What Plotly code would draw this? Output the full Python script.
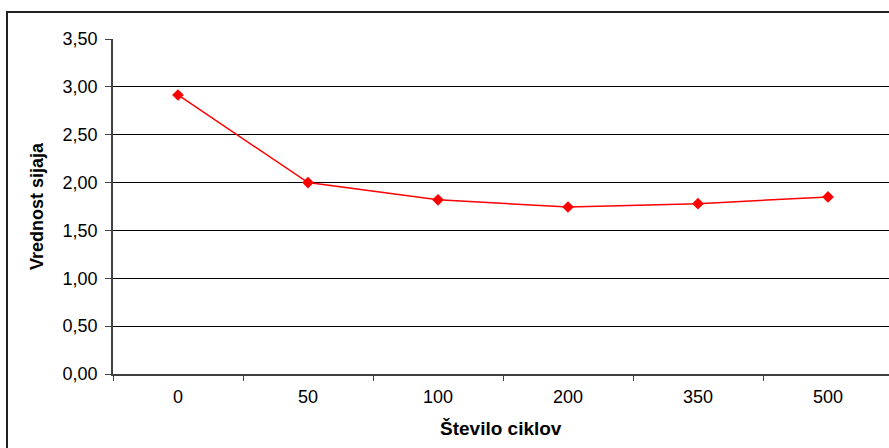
import plotly.graph_objects as go

categories = ["0", "50", "100", "200", "350", "500"]
values = [2.915, 2.00, 1.82, 1.745, 1.78, 1.85]
y_ticks = [0, 0.5, 1.0, 1.5, 2.0, 2.5, 3.0, 3.5]

W, H = 889, 448
L, T, B = 113, 39, 74
plot_w = W - L
plot_h = H - T - B
cat_px = 130.0

fig = go.Figure()
fig.add_trace(go.Scatter(
    x=categories, y=values, mode="lines+markers",
    line=dict(color="#ff0000", width=1.5),
    marker=dict(symbol="diamond", size=9, color="#ff0000"),
    showlegend=False,
))

font = "Liberation Sans, Arial, sans-serif"
fig.update_layout(
    width=W, height=H,
    margin=dict(l=L, r=0, t=T, b=B, pad=0),
    paper_bgcolor="white", plot_bgcolor="white",
    separators=", ",
    font=dict(family=font, size=18, color="black"),
    xaxis=dict(
        type="category", range=[-0.5, -0.5 + plot_w / cat_px],
        showgrid=False, showline=True, linecolor="#404040", linewidth=1.5,
        ticks="outside", ticklen=5, tickcolor="#404040", tickwidth=1,
        tickson="boundaries", ticklabelstandoff=6,
        tickfont=dict(size=18, family=font),
        zeroline=False,
    ),
    yaxis=dict(
        range=[0, 3.5], tickvals=y_ticks, tickformat=".2f",
        showgrid=True, gridcolor="black", gridwidth=1,
        showline=True, linecolor="#404040", linewidth=1.5,
        ticks="outside", ticklen=6, tickcolor="#404040", tickwidth=1,
        ticklabelstandoff=4,
        tickfont=dict(size=18, family=font),
        zeroline=False,
    ),
    annotations=[
        dict(text="<b>Število ciklov</b>", xref="paper", yref="paper",
             x=(501 - L) / plot_w, y=-(428 - (T + plot_h)) / plot_h,
             showarrow=False, xanchor="center", yanchor="middle",
             font=dict(size=19, family=font, color="black")),
        dict(text="<b>Vrednost sijaja</b>", xref="paper", yref="paper",
             x=(37 - L) / plot_w, y=1 - (206 - T) / plot_h, textangle=-90,
             showarrow=False, xanchor="center", yanchor="middle",
             font=dict(size=18, family=font, color="black")),
    ],
    shapes=[
        dict(type="rect", xref="paper", yref="paper",
             x0=(7 - L) / plot_w, x1=(W + 10 - L) / plot_w,
             y0=-(H + 10 - T - plot_h) / plot_h, y1=1 + (T - 12) / plot_h,
             line=dict(color="#222222", width=2), fillcolor="rgba(0,0,0,0)",
             layer="below"),
    ],
)

fig.write_html("out.html")
